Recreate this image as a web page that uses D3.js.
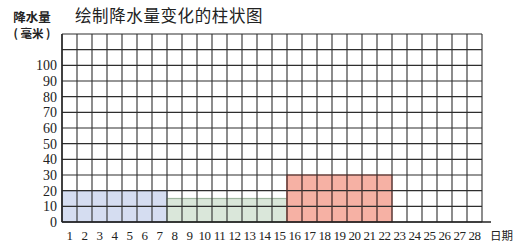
<!DOCTYPE html>
<html>
<head>
<meta charset="utf-8">
<script src="https://cdn.jsdelivr.net/npm/d3@7"></script>
<style>
  html, body { margin: 0; padding: 0; background: #fff; }
  svg { display: block; }
</style>
</head>
<body>
<div id="chart"></div>
<script>
// data
const days = [1,2,3,4,5,6,7,8,9,10,11,12,13,14,15,16,17,18,19,20,21,22,23,24,25,26,27,28];
const rainfall = [20,20,20,20,20,20,20,15,15,15,15,15,15,15,15,30,30,30,30,30,30,30,0,0,0,0,0,0];
const groups = ["a","a","a","a","a","a","a","b","b","b","b","b","b","b","b","c","c","c","c","c","c","c","n","n","n","n","n","n"];
const yTicks = [0,10,20,30,40,50,60,70,80,90,100];
const gridRows = [0,10,20,30,40,50,60,70,80,90,100,110,120];

const W = 514, H = 245;
const gLeft = 62, gRight = 482, gTop = 34, gBottom = 222;
const serif = "'Liberation Serif', 'DejaVu Serif', serif";
const cjk = "'Noto Sans CJK SC', sans-serif";

const fill = {a: "#d5ddf1", b: "#dae7da", c: "#f6b1a4"};
const edge = {a: "#8d9bc0", b: "#9fb6a0", c: "#d9766a"};

const svg = d3.select("#chart").append("svg")
  .attr("width", W).attr("height", H);

const x = d3.scaleBand().domain(days).range([gLeft, gRight]).padding(0);
const y = d3.scaleLinear().domain([0, 120]).range([gBottom, gTop]);

// bars, joined per colour group
const runs = [];
days.forEach((d, i) => {
  const g = groups[i];
  if (g === "n") return;
  const last = runs[runs.length - 1];
  if (last && last.g === g) { last.to = d; }
  else runs.push({g: g, from: d, to: d, v: rainfall[i]});
});

svg.append("g").selectAll("rect").data(runs).join("rect")
  .attr("x", d => x(d.from))
  .attr("width", d => x(d.to) + x.bandwidth() - x(d.from))
  .attr("y", d => y(d.v))
  .attr("height", d => y(0) - y(d.v))
  .attr("fill", d => fill[d.g])
  .attr("stroke", d => edge[d.g])
  .attr("stroke-width", 1.2);

// grid
const grid = svg.append("g").attr("stroke", "#2e2e2e").attr("stroke-width", 1.1);
grid.selectAll(".h").data(gridRows).join("line")
  .attr("x1", gLeft).attr("x2", gRight)
  .attr("y1", d => y(d)).attr("y2", d => y(d));
grid.selectAll(".v").data(days.concat([null])).join("line")
  .attr("x1", (d, i) => i < days.length ? x(d) : gRight)
  .attr("x2", (d, i) => i < days.length ? x(d) : gRight)
  .attr("y1", gTop).attr("y2", gBottom);

// red bars draw their inner grid a bit reddish
svg.append("g").selectAll("line").data(days.filter((d, i) => groups[i] === "c")).join("line")
  .attr("x1", d => x(d)).attr("x2", d => x(d))
  .attr("y1", y(30)).attr("y2", gBottom)
  .attr("stroke", "#7a3b36").attr("stroke-width", 1.1).attr("opacity", 0.5);

// axes
svg.append("line")
  .attr("x1", gLeft).attr("x2", 491).attr("y1", gBottom).attr("y2", gBottom)
  .attr("stroke", "#222").attr("stroke-width", 1.4);
svg.append("line")
  .attr("x1", gLeft).attr("x2", gLeft).attr("y1", gTop).attr("y2", gBottom)
  .attr("stroke", "#222").attr("stroke-width", 1.4);

const yAxis = d3.axisLeft(y).tickValues(yTicks).tickSize(0).tickPadding(5);
svg.append("g").attr("transform", `translate(${gLeft},0)`).call(yAxis)
  .call(g => g.select(".domain").remove())
  .selectAll("text")
    .style("font-family", serif)
    .style("font-size", "14px").attr("fill", "#222");

const xAxis = d3.axisBottom(x).tickSize(0).tickPadding(9);
svg.append("g").attr("transform", `translate(0,${gBottom})`).call(xAxis)
  .call(g => g.select(".domain").remove())
  .selectAll("text")
    .style("font-family", serif)
    .style("font-size", "13px").attr("fill", "#222")
    .attr("letter-spacing", -0.6);

// text labels
svg.append("text").attr("x", 75).attr("y", 22)
  .style("font-family", cjk).style("font-size", "16.5px")
  .attr("fill", "#222").attr("letter-spacing", 0.6)
  .text("绘制降水量变化的柱状图");
svg.append("text").attr("x", 32).attr("y", 22).attr("text-anchor", "middle")
  .style("font-family", cjk).style("font-size", "12.5px")
  .attr("font-weight", "bold").attr("fill", "#222")
  .text("降水量");
svg.append("text").attr("x", 32).attr("y", 38).attr("text-anchor", "middle")
  .style("font-family", cjk).style("font-size", "11.5px")
  .attr("font-weight", "bold").attr("fill", "#222")
  .text("( 毫米 )");
svg.append("text").attr("x", 490).attr("y", 240)
  .style("font-family", cjk).style("font-size", "11.5px")
  .attr("fill", "#222")
  .text("日期");
</script>
</body>
</html>
